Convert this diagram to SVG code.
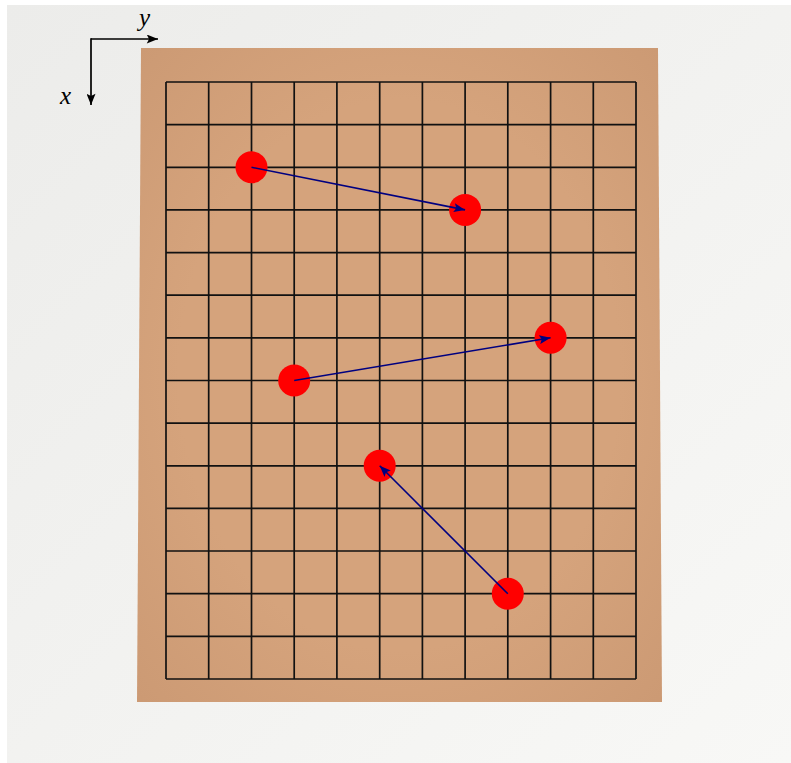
<svg xmlns="http://www.w3.org/2000/svg" width="791" height="763" viewBox="0 0 791 763">
<defs>
<linearGradient id="wall" x1="0" y1="0" x2="1" y2="1">
<stop offset="0" stop-color="#ececea"/>
<stop offset="1" stop-color="#f8f8f6"/>
</linearGradient>
<radialGradient id="wood" cx="0.5" cy="0.5" r="0.7">
<stop offset="0.6" stop-color="#d5a37c"/>
<stop offset="1" stop-color="#cc9a74"/>
</radialGradient>
<marker id="ah" viewBox="0 0 10 8" refX="10" refY="4" markerWidth="12" markerHeight="9" markerUnits="userSpaceOnUse" orient="auto">
<path d="M0,0 L10,4 L0,8 L2,4 Z" fill="#000080"/>
</marker>
<marker id="axh" viewBox="0 0 10 8" refX="10" refY="4" markerWidth="12" markerHeight="9" markerUnits="userSpaceOnUse" orient="auto">
<path d="M0,0 L10,4 L0,8 L2,4 Z" fill="#000"/>
</marker>
</defs>
<style>
.grid line{stroke:#111;stroke-width:1.7}
.stone{fill:#ff0000}
.mv{stroke:#000080;stroke-width:1.6;fill:none;marker-end:url(#ah)}
.ax{stroke:#000;stroke-width:1.7;fill:none;marker-end:url(#axh)}
.lbl{font-family:"Liberation Serif","DejaVu Serif",serif;font-style:italic;font-size:25px;fill:#000}
</style>
<rect x="0" y="0" width="791" height="763" fill="#ffffff"/>
<rect x="7" y="5" width="784" height="758" fill="url(#wall)"/>
<g id="axes">
<line class="ax" x1="91" y1="39" x2="158" y2="39"/>
<line class="ax" x1="91" y1="38.2" x2="91" y2="105"/>
<text class="lbl" x="139" y="26">y</text>
<text class="lbl" x="60" y="104">x</text>
</g>
<g id="board">
<polygon points="141,48 658,48 662,702 137,702" fill="url(#wood)"/>
</g>
<g id="grid" class="grid">
<line x1="166" y1="82" x2="166" y2="679"/>
<line x1="208.7" y1="82" x2="208.7" y2="679"/>
<line x1="251.5" y1="82" x2="251.5" y2="679"/>
<line x1="294.2" y1="82" x2="294.2" y2="679"/>
<line x1="336.9" y1="82" x2="336.9" y2="679"/>
<line x1="379.7" y1="82" x2="379.7" y2="679"/>
<line x1="422.4" y1="82" x2="422.4" y2="679"/>
<line x1="465.1" y1="82" x2="465.1" y2="679"/>
<line x1="507.8" y1="82" x2="507.8" y2="679"/>
<line x1="550.6" y1="82" x2="550.6" y2="679"/>
<line x1="593.3" y1="82" x2="593.3" y2="679"/>
<line x1="636" y1="82" x2="636" y2="679"/>
<line x1="166" y1="82" x2="636" y2="82"/>
<line x1="166" y1="124.6" x2="636" y2="124.6"/>
<line x1="166" y1="167.3" x2="636" y2="167.3"/>
<line x1="166" y1="209.9" x2="636" y2="209.9"/>
<line x1="166" y1="252.6" x2="636" y2="252.6"/>
<line x1="166" y1="295.2" x2="636" y2="295.2"/>
<line x1="166" y1="337.8" x2="636" y2="337.8"/>
<line x1="166" y1="380.5" x2="636" y2="380.5"/>
<line x1="166" y1="423.1" x2="636" y2="423.1"/>
<line x1="166" y1="465.8" x2="636" y2="465.8"/>
<line x1="166" y1="508.4" x2="636" y2="508.4"/>
<line x1="166" y1="551" x2="636" y2="551"/>
<line x1="166" y1="593.7" x2="636" y2="593.7"/>
<line x1="166" y1="636.3" x2="636" y2="636.3"/>
<line x1="166" y1="679" x2="636" y2="679"/>
</g>
<g id="stone1"><circle class="stone" cx="251.5" cy="167.3" r="16"/></g>
<g id="stone2"><circle class="stone" cx="465.1" cy="209.9" r="16"/></g>
<g id="stone3"><circle class="stone" cx="550.6" cy="337.8" r="16"/></g>
<g id="stone4"><circle class="stone" cx="294.2" cy="380.5" r="16"/></g>
<g id="stone5"><circle class="stone" cx="379.7" cy="465.8" r="16"/></g>
<g id="stone6"><circle class="stone" cx="507.8" cy="593.7" r="16"/></g>
<g id="connectors">
<line class="mv" x1="251.5" y1="167.3" x2="465.1" y2="209.9"/>
<line class="mv" x1="294.2" y1="380.5" x2="550.6" y2="337.8"/>
<line class="mv" x1="507.8" y1="593.7" x2="379.7" y2="465.8"/>
</g>
</svg>
